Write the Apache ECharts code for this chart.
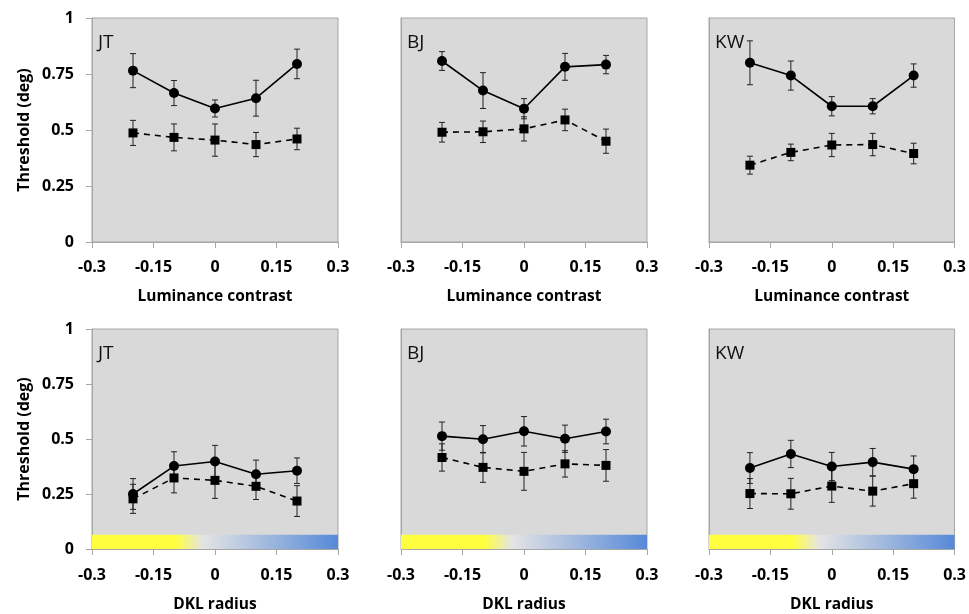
<!DOCTYPE html>
<html>
<head>
<meta charset="utf-8">
<script src="https://cdn.jsdelivr.net/npm/echarts@6/dist/echarts.min.js"></script>
<style>
  html, body { margin: 0; padding: 0; background: #fff; }
  #chart { width: 969px; height: 614px; }
</style>
</head>
<body>
<div id="chart"></div>
<script>
// x positions shared by every panel
const xValues = [-0.2, -0.1, 0, 0.1, 0.2];
const xTicks = ['-0.3', '-0.15', '0', '0.15', '0.3'];
const yTicks = ['0', '0.25', '0.5', '0.75', '1'];
const subjects = ['JT', 'BJ', 'KW'];
const xNames = ['Luminance contrast', 'DKL radius'];

// top row: luminance contrast (circles = solid, squares = dashed)
const lumJTCirc = [0.765, 0.665, 0.596, 0.642, 0.795];
const lumJTCircErr = [0.076, 0.056, 0.038, 0.080, 0.066];
const lumJTSq = [0.487, 0.467, 0.455, 0.435, 0.460];
const lumJTSqErr = [0.056, 0.060, 0.072, 0.054, 0.048];
const lumBJCirc = [0.808, 0.676, 0.595, 0.782, 0.792];
const lumBJCircErr = [0.042, 0.080, 0.045, 0.060, 0.041];
const lumBJSq = [0.490, 0.492, 0.505, 0.545, 0.450];
const lumBJSqErr = [0.044, 0.048, 0.054, 0.048, 0.054];
const lumKWCirc = [0.800, 0.743, 0.606, 0.606, 0.743];
const lumKWCircErr = [0.098, 0.065, 0.043, 0.034, 0.052];
const lumKWSq = [0.343, 0.400, 0.433, 0.435, 0.395];
const lumKWSqErr = [0.040, 0.037, 0.052, 0.050, 0.046];

// bottom row: DKL radius
const dklJTCirc = [0.250, 0.377, 0.398, 0.340, 0.356];
const dklJTCircErr = [0.070, 0.065, 0.073, 0.064, 0.058];
const dklJTSq = [0.228, 0.323, 0.312, 0.285, 0.218];
const dklJTSqErr = [0.066, 0.068, 0.082, 0.060, 0.070];
const dklBJCirc = [0.513, 0.499, 0.535, 0.501, 0.534];
const dklBJCircErr = [0.064, 0.062, 0.067, 0.062, 0.056];
const dklBJSq = [0.416, 0.371, 0.353, 0.387, 0.380];
const dklBJSqErr = [0.062, 0.068, 0.086, 0.060, 0.072];
const dklKWCirc = [0.368, 0.432, 0.375, 0.395, 0.363];
const dklKWCircErr = [0.070, 0.062, 0.064, 0.062, 0.060];
const dklKWSq = [0.252, 0.251, 0.286, 0.263, 0.297];
const dklKWSqErr = [0.068, 0.070, 0.074, 0.068, 0.066];

// colour strip along the bottom of the DKL panels
const stripX = [-0.3, 0.3];
const stripY = [0, 0.065];

const panels = [
  [lumJTCirc, lumJTCircErr, lumJTSq, lumJTSqErr],
  [lumBJCirc, lumBJCircErr, lumBJSq, lumBJSqErr],
  [lumKWCirc, lumKWCircErr, lumKWSq, lumKWSqErr],
  [dklJTCirc, dklJTCircErr, dklJTSq, dklJTSqErr],
  [dklBJCirc, dklBJCircErr, dklBJSq, dklBJSqErr],
  [dklKWCirc, dklKWCircErr, dklKWSq, dklKWSqErr]
];

const FONT = '"Open Sans", "Liberation Sans", sans-serif';
const gridLeft = [92, 401, 709];
const gridWidth = [246, 246, 247];
const gridTop = [18, 329];
const gridHeight = [224, 223];

const myChart = echarts.init(document.getElementById('chart'));

function errBar(params, api) {
  const x = api.value(0), y = api.value(1), e = api.value(2);
  const hi = api.coord([x, y + e]);
  const lo = api.coord([x, y - e]);
  const w = 3;
  const style = { stroke: '#222', lineWidth: 1 };
  return {
    type: 'group',
    children: [
      { type: 'line', shape: { x1: hi[0], y1: hi[1], x2: lo[0], y2: lo[1] }, style: style },
      { type: 'line', shape: { x1: hi[0] - w, y1: hi[1], x2: hi[0] + w, y2: hi[1] }, style: style },
      { type: 'line', shape: { x1: lo[0] - w, y1: lo[1], x2: lo[0] + w, y2: lo[1] }, style: style }
    ]
  };
}

const grids = [], xAxes = [], yAxes = [], series = [], titles = [];

panels.forEach(function (p, i) {
  const row = Math.floor(i / 3), col = i % 3;
  grids.push({
    left: gridLeft[col], top: gridTop[row], width: gridWidth[col], height: gridHeight[row],
    show: true, backgroundColor: '#d9d9d9', borderColor: '#a6a6a6', borderWidth: 1
  });
  xAxes.push({
    gridIndex: i, type: 'value', min: -0.3, max: 0.3, interval: 0.15,
    name: xNames[row], nameLocation: 'middle', nameGap: row === 0 ? 47 : 48,
    nameTextStyle: { color: '#000', fontWeight: 'bold', fontSize: 15.5, fontFamily: FONT },
    axisLine: { show: true, onZero: false, lineStyle: { color: '#a6a6a6' } },
    axisTick: { show: true, length: 6, lineStyle: { color: '#a6a6a6' } },
    splitLine: { show: false },
    axisLabel: {
      margin: row === 0 ? 17 : 18, color: '#000', fontWeight: 'bold', fontSize: 16, fontFamily: FONT,
      formatter: function (v) { return xTicks[Math.round((v + 0.3) / 0.15)]; }
    }
  });
  yAxes.push({
    gridIndex: i, type: 'value', min: 0, max: 1, interval: 0.25,
    name: col === 0 ? 'Threshold (deg)' : '', nameLocation: 'middle', nameGap: 60, nameRotate: 90,
    nameTextStyle: { color: '#000', fontWeight: 'bold', fontSize: 16, fontFamily: FONT },
    axisLine: { show: true, onZero: false, lineStyle: { color: '#a6a6a6' } },
    axisTick: { show: col === 0, length: 6, lineStyle: { color: '#a6a6a6' } },
    splitLine: { show: false },
    axisLabel: {
      show: col === 0, margin: 18, color: '#000', fontWeight: 'bold', fontSize: 16, fontFamily: FONT,
      formatter: function (v) { return yTicks[Math.round(v / 0.25)]; }
    }
  });
  titles.push({
    text: subjects[col], left: gridLeft[col] + 1, top: gridTop[row] + 10,
    textStyle: { fontSize: 19, fontWeight: 'normal', color: '#111', fontFamily: FONT }
  });

  const circ = xValues.map(function (x, k) { return [x, p[0][k], p[1][k]]; });
  const sq = xValues.map(function (x, k) { return [x, p[2][k], p[3][k]]; });

  const solid = {
    type: 'line', xAxisIndex: i, yAxisIndex: i, data: circ, z: 5,
    symbol: 'circle', symbolSize: 10, itemStyle: { color: '#000' },
    lineStyle: { color: '#000', width: 1.6 }, silent: true
  };
  if (row === 1) {
    solid.markArea = {
      silent: true,
      itemStyle: {
        color: new echarts.graphic.LinearGradient(0, 0, 1, 0, [
          { offset: 0, color: '#ffff40' },
          { offset: 0.34, color: '#ffff40' },
          { offset: 0.45, color: '#e4e4e4' },
          { offset: 1, color: '#5689d8' }
        ])
      },
      data: [[{ coord: [stripX[0], stripY[0]] }, { coord: [stripX[1], stripY[1]] }]]
    };
  }
  series.push(
    { type: 'custom', xAxisIndex: i, yAxisIndex: i, data: circ, renderItem: errBar, z: 3, silent: true },
    { type: 'custom', xAxisIndex: i, yAxisIndex: i, data: sq, renderItem: errBar, z: 3, silent: true },
    solid,
    {
      type: 'line', xAxisIndex: i, yAxisIndex: i, data: sq, z: 5,
      symbol: 'rect', symbolSize: 9, itemStyle: { color: '#000' },
      lineStyle: { color: '#000', width: 1.6, type: [6, 5] }, silent: true
    }
  );
});

const option = {
  animation: false,
  title: titles,
  grid: grids,
  xAxis: xAxes,
  yAxis: yAxes,
  series: series
};
myChart.setOption(option);
</script>
</body>
</html>
